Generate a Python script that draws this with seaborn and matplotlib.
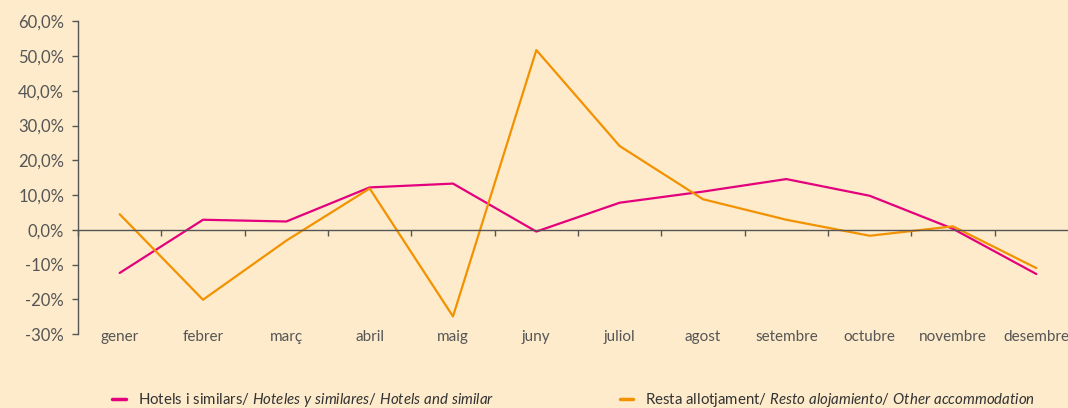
import matplotlib
matplotlib.use("Agg")
import matplotlib.pyplot as plt
import matplotlib.ticker as mticker
import pandas as pd
import seaborn as sns

months = ["gener", "febrer", "març", "abril", "maig", "juny", "juliol",
          "agost", "setembre", "octubre", "novembre", "desembre"]
hotels = [-12.4, 2.9, 2.4, 12.2, 13.3, -0.5, 7.8, 11.0, 14.6, 9.8, 0.3, -12.7]
resta = [4.5, -20.1, -3.1, 11.9, -24.9, 51.7, 24.1, 8.8, 2.9, -1.7, 1.0, -11.0]

label_hotels = r"Hotels i similars/ $\it{Hoteles\ y\ similares/\ Hotels\ and\ similar}$"
label_resta = r"Resta allotjament/ $\it{Resto\ alojamiento/\ Other\ accommodation}$"

BG = "#FDEBCB"
GREY = "#555555"
PINK = "#E4007C"
ORANGE = "#F39200"

df = pd.DataFrame({
    "mes": list(range(len(months))) * 2,
    "valor": hotels + resta,
    "serie": [label_hotels] * len(months) + [label_resta] * len(months),
})

sns.set_theme(style="white")
plt.rcParams["font.family"] = ["Lato", "DejaVu Sans"]
plt.rcParams["mathtext.fontset"] = "custom"
plt.rcParams["mathtext.rm"] = "Lato"
plt.rcParams["mathtext.it"] = "Lato:italic"

fig = plt.figure(figsize=(10.68, 4.08), dpi=100, facecolor=BG)
ax = fig.add_axes([78 / 1068, 0.181, 1 - 78 / 1068, 0.767])
ax.set_facecolor(BG)

sns.lineplot(data=df, x="mes", y="valor", hue="serie",
             palette=[PINK, ORANGE], linewidth=1.6, ax=ax)

ax.set_xlim(-0.5, 11.38)
ax.set_ylim(-30, 60)
ax.set_xlabel("")
ax.set_ylabel("")

# y axis
ax.yaxis.set_major_locator(mticker.MultipleLocator(10))
ax.yaxis.set_major_formatter(mticker.FuncFormatter(
    lambda v, p: f"{v:.1f}%".replace(".", ",") if v >= 0 else f"{v:.0f}%"))
ax.tick_params(axis="y", left=True, length=4, width=1, color=GREY,
               labelsize=12, labelcolor=GREY, pad=6)
for s in ["top", "right"]:
    ax.spines[s].set_visible(False)
ax.spines["left"].set_color(GREY)
ax.spines["left"].set_linewidth(1)

# x axis line at zero with boundary ticks
ax.spines["bottom"].set_position(("data", 0))
ax.spines["bottom"].set_color(GREY)
ax.spines["bottom"].set_linewidth(1)
ax.set_xticks(range(len(months)))
ax.set_xticklabels([])
ax.xaxis.set_minor_locator(mticker.FixedLocator([i + 0.5 for i in range(-1, len(months))]))
ax.tick_params(axis="x", which="major", bottom=False, length=0)
ax.tick_params(axis="x", which="minor", bottom=True, length=4, width=1, color=GREY)

sec = ax.secondary_xaxis(0.0)
sec.set_xticks(range(len(months)))
sec.set_xticklabels(months)
sec.spines["bottom"].set_visible(False)
sec.tick_params(axis="x", length=0, labelsize=11, labelcolor=GREY, pad=-3)

sns.move_legend(ax, "center left", bbox_to_anchor=(106 / 1068, 8 / 408),
                bbox_transform=fig.transFigure, ncol=2, frameon=False,
                title=None, fontsize=10.8, handlelength=0.9, handletextpad=0.8,
                columnspacing=8.4, labelcolor="#333333", borderaxespad=0)
for line in ax.get_legend().get_lines():
    line.set_linewidth(2.5)

fig.savefig("out.png", dpi=100, facecolor=BG)
